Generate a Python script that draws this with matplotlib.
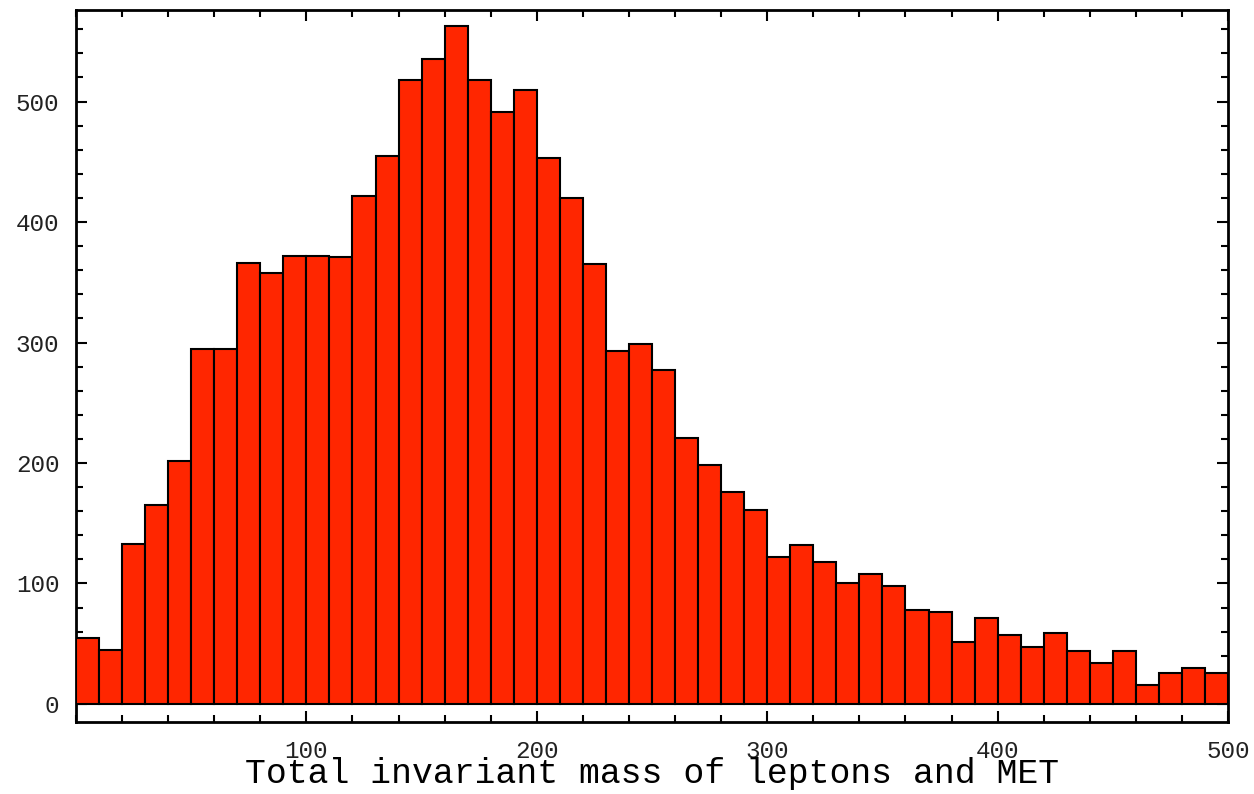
import matplotlib
matplotlib.use("Agg")
import matplotlib.pyplot as plt
from matplotlib.ticker import MultipleLocator

# Histogram bin edges (0..500, width 10) and counts
bin_start = 0
bin_width = 10
counts = [55, 45, 133, 165, 202, 295, 295, 366, 358, 372,
          372, 371, 422, 455, 518, 535, 563, 518, 491, 510,
          453, 420, 365, 293, 299, 277, 221, 198, 176, 161,
          122, 132, 118, 100, 108, 98, 78, 76, 51, 71,
          57, 47, 59, 44, 34, 44, 16, 26, 30, 26]
edges = [bin_start + i * bin_width for i in range(len(counts) + 1)]
xlabel = "Total invariant mass of leptons and MET"
xticks = [100, 200, 300, 400, 500]
yticks = [0, 100, 200, 300, 400, 500]

fig = plt.figure(figsize=(12.54, 7.94), dpi=100)
ax = fig.add_axes([0.0606, 0.0907, 0.9187, 0.8967])

ax.bar(edges[:-1], counts, width=bin_width, align="edge",
       facecolor="#ff2600", edgecolor="black", linewidth=1.5, zorder=3)

ax.set_xlim(0, 500)
ax.set_ylim(-15, 576)

ax.set_xticks(xticks)
ax.set_yticks(yticks)
ax.xaxis.set_minor_locator(MultipleLocator(20))
ax.yaxis.set_minor_locator(MultipleLocator(20))
ax.tick_params(which="both", direction="in", top=True, right=True,
               width=1.5, color="black")
ax.tick_params(which="major", length=8)
ax.tick_params(which="minor", length=5)
ax.tick_params(axis="y", pad=12, labelsize=17.5)
ax.tick_params(axis="x", pad=13, labelsize=17.5)
for lab in ax.get_xticklabels() + ax.get_yticklabels():
    lab.set_fontfamily("Liberation Mono")
    lab.set_color("#222222")

for s in ax.spines.values():
    s.set_linewidth(2)

ax.set_xlabel(xlabel, fontsize=25, family="Liberation Mono", labelpad=-4)

fig.savefig("out.png", dpi=100)
